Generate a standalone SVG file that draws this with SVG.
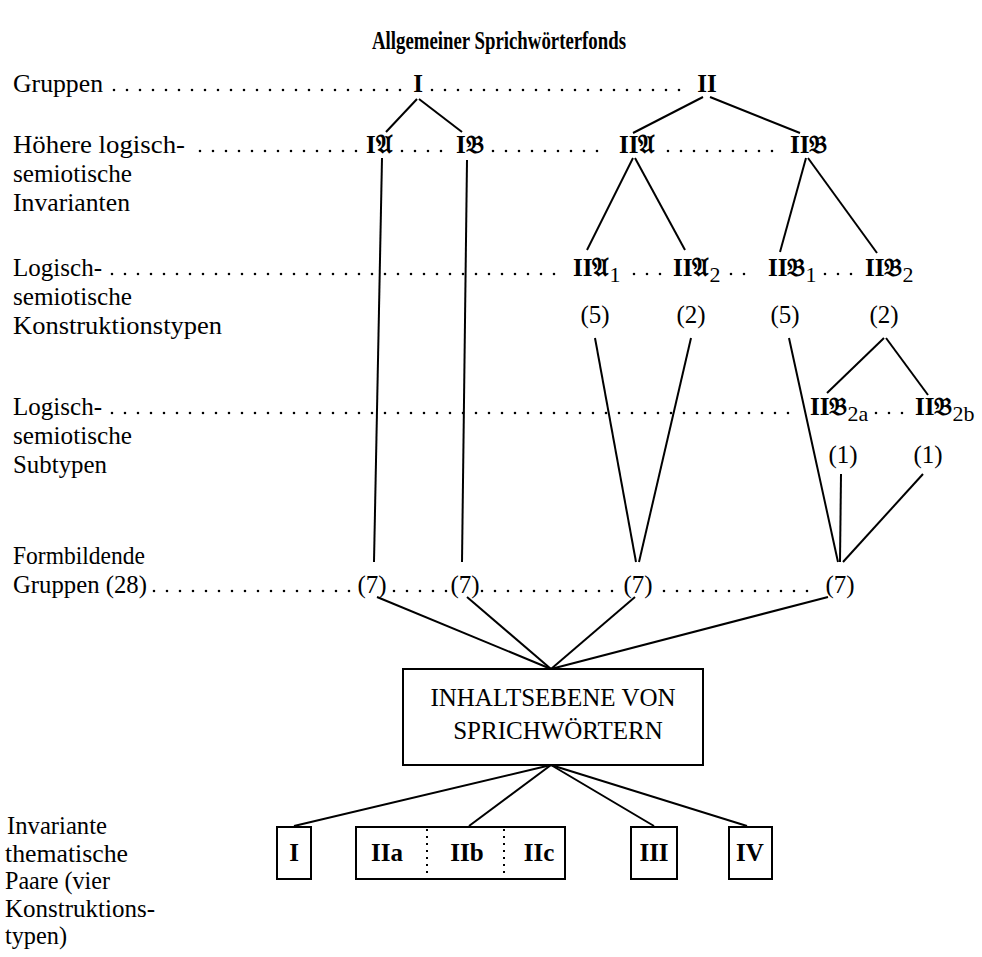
<svg xmlns="http://www.w3.org/2000/svg" width="982" height="957" viewBox="0 0 982 957">
<style>
text{font-family:"Liberation Serif","Times New Roman",serif;fill:#000}
.t{font-size:25px}
.n{font-size:25px;font-weight:bold}
.title{font-size:25px;font-weight:bold}
.sub{font-weight:normal;font-size:22px}
.dots{stroke:#000;stroke-width:2.6;stroke-linecap:round;stroke-dasharray:0 13;fill:none}
.ln{stroke:#000;stroke-width:2;fill:none}
.box{stroke:#000;stroke-width:2;fill:#fff}
.div{stroke:#000;stroke-width:2;stroke-dasharray:2 5}
</style>
<rect width="982" height="957" fill="#fff"/>
<text class="title" x="372" y="49" textLength="254" lengthAdjust="spacingAndGlyphs">Allgemeiner Sprichwörterfonds</text>

<g id="labels">
<text class="t" x="13" y="92" textLength="90" lengthAdjust="spacingAndGlyphs">Gruppen</text>
<text class="t" x="13" y="153" textLength="172" lengthAdjust="spacingAndGlyphs">Höhere logisch-</text>
<text class="t" x="13" y="182" textLength="119" lengthAdjust="spacingAndGlyphs">semiotische</text>
<text class="t" x="13" y="211" textLength="117" lengthAdjust="spacingAndGlyphs">Invarianten</text>
<text class="t" x="13" y="276" textLength="89" lengthAdjust="spacingAndGlyphs">Logisch-</text>
<text class="t" x="13" y="305" textLength="119" lengthAdjust="spacingAndGlyphs">semiotische</text>
<text class="t" x="13" y="334" textLength="209" lengthAdjust="spacingAndGlyphs">Konstruktionstypen</text>
<text class="t" x="13" y="415" textLength="89" lengthAdjust="spacingAndGlyphs">Logisch-</text>
<text class="t" x="13" y="444" textLength="119" lengthAdjust="spacingAndGlyphs">semiotische</text>
<text class="t" x="13" y="473" textLength="94" lengthAdjust="spacingAndGlyphs">Subtypen</text>
<text class="t" x="13" y="564" textLength="132" lengthAdjust="spacingAndGlyphs">Formbildende</text>
<text class="t" x="13" y="593" textLength="134" lengthAdjust="spacingAndGlyphs">Gruppen (28)</text>
<text class="t" x="7" y="834" textLength="100" lengthAdjust="spacingAndGlyphs">Invariante</text>
<text class="t" x="5" y="861.5" textLength="123" lengthAdjust="spacingAndGlyphs">thematische</text>
<text class="t" x="5" y="889" textLength="105" lengthAdjust="spacingAndGlyphs">Paare (vier</text>
<text class="t" x="5" y="916.5" textLength="150" lengthAdjust="spacingAndGlyphs">Konstruktions-</text>
<text class="t" x="5" y="944" textLength="62" lengthAdjust="spacingAndGlyphs">typen)</text>
</g>

<g id="dotted-rows">
<line class="dots" x1="114" y1="90" x2="404" y2="90"/>
<line class="dots" x1="432" y1="90" x2="692" y2="90"/>
<line class="dots" x1="200" y1="151" x2="358" y2="151"/>
<line class="dots" x1="402" y1="151" x2="450" y2="151"/>
<line class="dots" x1="493" y1="151" x2="610" y2="151"/>
<line class="dots" x1="668" y1="151" x2="785" y2="151"/>
<line class="dots" x1="112" y1="274" x2="564" y2="274"/>
<line class="dots" x1="634" y1="274" x2="664" y2="274"/>
<line class="dots" x1="731" y1="274" x2="757" y2="274"/>
<line class="dots" x1="825" y1="274" x2="855" y2="274"/>
<line class="dots" x1="112" y1="413" x2="801" y2="413"/>
<line class="dots" x1="876" y1="413" x2="906" y2="413"/>
<line class="dots" x1="154" y1="591" x2="353" y2="591"/>
<line class="dots" x1="394" y1="591" x2="447" y2="591"/>
<line class="dots" x1="482" y1="591" x2="614" y2="591"/>
<line class="dots" x1="664" y1="591" x2="818" y2="591"/>
</g>

<g id="connectors">
<line class="ln" x1="417" y1="99" x2="386" y2="132"/>
<line class="ln" x1="419" y1="99" x2="462" y2="132"/>
<line class="ln" x1="703" y1="97" x2="633" y2="133"/>
<line class="ln" x1="710" y1="97" x2="800" y2="133"/>
<line class="ln" x1="382" y1="158" x2="374" y2="562"/>
<line class="ln" x1="467" y1="160" x2="462" y2="562"/>
<line class="ln" x1="633" y1="158" x2="587" y2="250"/>
<line class="ln" x1="635" y1="158" x2="685" y2="250"/>
<line class="ln" x1="806" y1="158" x2="780" y2="252"/>
<line class="ln" x1="808" y1="158" x2="877" y2="253"/>
<line class="ln" x1="595" y1="338" x2="636" y2="562"/>
<line class="ln" x1="691" y1="338" x2="639" y2="562"/>
<line class="ln" x1="789" y1="338" x2="838" y2="562"/>
<line class="ln" x1="884" y1="338" x2="827" y2="393"/>
<line class="ln" x1="886" y1="338" x2="928" y2="395"/>
<line class="ln" x1="841" y1="474" x2="840" y2="562"/>
<line class="ln" x1="923" y1="474" x2="843" y2="562"/>
<line class="ln" x1="377" y1="597" x2="551" y2="669"/>
<line class="ln" x1="467" y1="597" x2="551" y2="669"/>
<line class="ln" x1="635" y1="597" x2="551" y2="669"/>
<line class="ln" x1="828" y1="597" x2="551" y2="669"/>
<line class="ln" x1="551" y1="765" x2="294" y2="826"/>
<line class="ln" x1="551" y1="765" x2="469" y2="826"/>
<line class="ln" x1="551" y1="765" x2="654" y2="826"/>
<line class="ln" x1="551" y1="765" x2="747" y2="826"/>
</g>

<g id="node-I"><text class="n" x="418" y="92" text-anchor="middle">I</text></g>
<g id="node-II"><text class="n" x="707" y="92" text-anchor="middle">II</text></g>
<g id="node-IA"><text class="n" x="366" y="153">I𝔄</text></g>
<g id="node-IB"><text class="n" x="456" y="153">I𝔅</text></g>
<g id="node-IIA"><text class="n" x="619" y="153">II𝔄</text></g>
<g id="node-IIB"><text class="n" x="790" y="153">II𝔅</text></g>
<g id="node-IIA1"><text class="n" x="573" y="276">II𝔄<tspan class="sub" dy="6">1</tspan></text></g>
<g id="node-IIA2"><text class="n" x="673" y="276">II𝔄<tspan class="sub" dy="6">2</tspan></text></g>
<g id="node-IIB1"><text class="n" x="768" y="276">II𝔅<tspan class="sub" dy="6">1</tspan></text></g>
<g id="node-IIB2"><text class="n" x="865" y="276">II𝔅<tspan class="sub" dy="6">2</tspan></text></g>
<g id="count-IIA1"><text class="t" x="595" y="323" text-anchor="middle">(5)</text></g>
<g id="count-IIA2"><text class="t" x="691" y="323" text-anchor="middle">(2)</text></g>
<g id="count-IIB1"><text class="t" x="785" y="323" text-anchor="middle">(5)</text></g>
<g id="count-IIB2"><text class="t" x="884" y="323" text-anchor="middle">(2)</text></g>
<g id="node-IIB2a"><text class="n" x="810" y="415">II𝔅<tspan class="sub" dy="6">2a</tspan></text></g>
<g id="node-IIB2b"><text class="n" x="915" y="415">II𝔅<tspan class="sub" dy="6">2b</tspan></text></g>
<g id="count-IIB2a"><text class="t" x="843" y="463" text-anchor="middle">(1)</text></g>
<g id="count-IIB2b"><text class="t" x="928" y="463" text-anchor="middle">(1)</text></g>
<g id="form-1"><text class="t" x="372" y="593" text-anchor="middle">(7)</text></g>
<g id="form-2"><text class="t" x="465" y="593" text-anchor="middle">(7)</text></g>
<g id="form-3"><text class="t" x="638" y="593" text-anchor="middle">(7)</text></g>
<g id="form-4"><text class="t" x="840" y="593" text-anchor="middle">(7)</text></g>

<g id="content-box">
<rect class="box" x="403" y="669" width="300" height="96"/>
<text class="t" x="553" y="706" text-anchor="middle">INHALTSEBENE VON</text>
<text class="t" x="558" y="739" text-anchor="middle">SPRICHWÖRTERN</text>
</g>

<g id="pair-I">
<rect class="box" x="277" y="827" width="34" height="52"/>
<text class="n" x="294" y="861" text-anchor="middle">I</text>
</g>
<g id="pair-II">
<rect class="box" x="356" y="827" width="209" height="52"/>
<line class="div" x1="427" y1="829" x2="427" y2="877"/>
<line class="div" x1="504" y1="829" x2="504" y2="877"/>
<text class="n" x="387" y="861" text-anchor="middle">IIa</text>
<text class="n" x="467" y="861" text-anchor="middle">IIb</text>
<text class="n" x="539" y="861" text-anchor="middle">IIc</text>
</g>
<g id="pair-III">
<rect class="box" x="631" y="827" width="46" height="52"/>
<text class="n" x="654" y="861" text-anchor="middle">III</text>
</g>
<g id="pair-IV">
<rect class="box" x="729" y="827" width="43" height="52"/>
<text class="n" x="750" y="861" text-anchor="middle">IV</text>
</g>
</svg>
